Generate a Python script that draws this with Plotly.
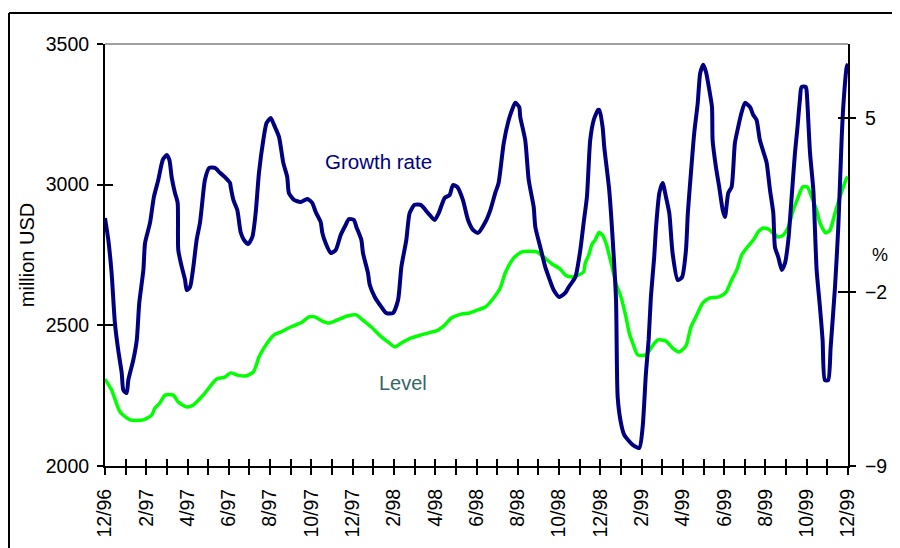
import plotly.graph_objects as go

# Month index: 0 = 12/96 ... 36 = 12/99
tick_months = list(range(0, 37, 2))
tick_labels = ["12/96", "2/97", "4/97", "6/97", "8/97", "10/97", "12/97",
               "2/98", "4/98", "6/98", "8/98", "10/98", "12/98",
               "2/99", "4/99", "6/99", "8/99", "10/99", "12/99"]

growth_month = [0, 0.16, 0.32, 0.48, 0.64, 0.81, 0.89, 1.05, 1.13, 1.37, 1.54, 1.66, 1.86, 1.94,
                2.18, 2.37, 2.58, 2.80, 2.99, 3.12, 3.23, 3.39, 3.52, 3.55, 3.72, 3.88, 3.96,
                4.12, 4.28, 4.44, 4.60, 4.69, 4.84, 5.05, 5.33, 5.57, 5.81, 6.06, 6.09, 6.22,
                6.41, 6.57, 6.73, 6.93, 7.14, 7.30, 7.46, 7.67, 7.83, 8.03, 8.19, 8.43, 8.64,
                8.83, 8.91, 9.16, 9.48, 9.80, 10.04, 10.21, 10.45, 10.53, 10.69, 10.94, 11.18,
                11.42, 11.66, 11.82, 12.06, 12.18, 12.42, 12.50, 12.74, 12.83, 13.07, 13.39,
                13.63, 13.95, 14.20, 14.36, 14.60, 14.76, 15.00, 15.30, 15.65, 15.97, 16.17,
                16.46, 16.70, 16.86, 17.07, 17.34, 17.59, 17.83, 18.07, 18.43, 18.67, 18.91,
                19.07, 19.32, 19.56, 19.72, 19.88, 20.07, 20.12, 20.36, 20.53, 20.77, 20.85,
                21.09, 21.33, 21.50, 21.74, 22.01, 22.30, 22.47, 22.79, 23.03, 23.19, 23.35,
                23.51, 23.68, 23.89, 23.95, 24.11, 24.19, 24.43, 24.60, 24.76, 24.84, 25.00,
                25.16, 25.57, 25.89, 26.05, 26.21, 26.34, 26.45, 26.61, 26.70, 26.86, 27.02,
                27.18, 27.34, 27.50, 27.75, 27.96, 28.15, 28.24, 28.39, 28.55, 28.72, 28.84,
                28.99, 29.12, 29.28, 29.41, 29.44, 29.60, 29.76, 29.93, 30.04, 30.20, 30.36,
                30.52, 30.68, 30.85, 31.01, 31.25, 31.41, 31.57, 31.73, 31.98, 32.06, 32.22,
                32.38, 32.46, 32.62, 32.79, 32.95, 33.11, 33.27, 33.43, 33.54, 33.67, 33.75,
                33.96, 34.00, 34.16, 34.32, 34.48, 34.64, 34.77, 34.88, 35.04, 35.16, 35.37,
                35.53, 35.69, 35.77, 35.94, 36.00]
growth_pct = [0.99, 0.11, -1.22, -3.24, -4.33, -5.25, -5.94, -6.06, -5.54, -4.73, -3.92, -2.43,
              -1.10, -0.02, 0.79, 1.84, 2.52, 3.33, 3.53, 3.33, 2.64, 2.00, 1.60, -0.30, -0.98,
              -1.51, -1.91, -1.79, -0.98, 0.11, 0.79, 1.44, 2.52, 3.01, 3.01, 2.81, 2.64, 2.40,
              2.24, 1.72, 1.31, 0.43, 0.11, -0.06, 0.23, 1.19, 2.81, 4.13, 4.82, 5.02, 4.74,
              4.26, 3.21, 2.64, 2.00, 1.72, 1.64, 1.76, 1.60, 1.23, 0.83, 0.39, -0.02, -0.42,
              -0.30, 0.31, 0.71, 0.95, 0.91, 0.63, 0.11, -0.42, -1.22, -1.71, -2.19, -2.59,
              -2.84, -2.84, -2.31, -0.98, 0.11, 1.19, 1.52, 1.52, 1.19, 0.91, 1.19, 1.80, 1.92,
              2.32, 2.24, 1.72, 0.91, 0.51, 0.39, 0.83, 1.31, 2.00, 2.40, 4.01, 4.94, 5.34,
              5.63, 5.46, 5.06, 4.13, 2.52, 1.44, 0.63, -0.18, -0.98, -1.39, -1.91, -2.19,
              -2.03, -1.79, -1.39, -0.30, 0.79, 1.84, 4.13, 4.94, 5.34, 5.34, 4.66, 3.85, 2.12,
              0.11, -2.31, -6.22, -7.27, -7.75, -8.15, -8.27, -7.43, -5.25, -3.92, -2.19, -0.58,
              0.63, 2.00, 2.40, 1.84, 1.19, -0.42, -1.51, -1.39, -0.30, 1.19, 2.81, 4.42, 5.63,
              6.83, 7.16, 6.87, 6.15, 5.46, 4.13, 3.05, 2.24, 1.31, 1.03, 2.00, 2.24, 4.01,
              4.66, 5.26, 5.63, 5.46, 5.14, 4.94, 4.13, 3.45, 3.21, 2.12, 1.19, -0.18, -0.58,
              -1.10, -0.82, 0.11, 1.84, 3.61, 4.54, 5.75, 6.27, 6.27, 6.07, 3.61, 2.12, -1.10,
              -2.59, -3.92, -5.54, -5.54, -4.21, -1.79, 0.63, 4.13, 5.46, 7.08, 7.20]

level_month = [0, 0.32, 0.73, 1.21, 1.86, 2.26, 2.42, 2.66, 2.91, 3.31, 3.55, 3.96, 4.28, 4.76,
               5.41, 5.81, 6.09, 6.41, 6.82, 7.19, 7.46, 7.86, 8.19, 8.51, 9.00, 9.56, 9.88,
               10.16, 10.53, 10.85, 11.25, 11.74, 12.18, 12.42, 12.90, 13.39, 13.71, 14.04,
               14.36, 14.84, 15.32, 15.81, 16.05, 16.46, 16.78, 17.26, 17.67, 18.07, 18.43,
               18.75, 19.15, 19.39, 19.80, 20.20, 20.93, 21.25, 21.66, 22.06, 22.30, 22.63,
               22.95, 23.19, 23.27, 23.44, 23.60, 23.75, 23.93, 24.11, 24.27, 24.52, 24.76,
               25.00, 25.24, 25.40, 25.57, 25.81, 26.21, 26.45, 26.78, 27.18, 27.50, 27.82,
               28.15, 28.39, 28.63, 28.96, 29.28, 29.76, 30.09, 30.36, 30.61, 30.85, 31.09,
               31.41, 31.65, 31.89, 32.14, 32.38, 32.62, 32.86, 33.11, 33.35, 33.59, 33.80,
               34.03, 34.24, 34.48, 34.64, 34.93, 35.13, 35.37, 35.61, 35.94, 36.00]
level_usd = [2309, 2270, 2192, 2164, 2164, 2181, 2206, 2224, 2252, 2252, 2227, 2210, 2217, 2252,
             2309, 2316, 2331, 2323, 2320, 2334, 2387, 2437, 2466, 2476, 2494, 2512, 2530,
             2530, 2515, 2508, 2519, 2533, 2537, 2523, 2494, 2459, 2441, 2423, 2437, 2455,
             2466, 2476, 2480, 2501, 2526, 2540, 2544, 2555, 2565, 2590, 2633, 2686, 2739,
             2761, 2761, 2743, 2718, 2700, 2679, 2672, 2679, 2690, 2722, 2750, 2789, 2803,
             2830, 2820, 2793, 2722, 2650, 2601, 2530, 2473, 2437, 2395, 2395, 2419, 2448,
             2444, 2419, 2405, 2427, 2494, 2530, 2579, 2597, 2601, 2618, 2661, 2697, 2750,
             2775, 2803, 2832, 2846, 2842, 2828, 2814, 2821, 2850, 2910, 2956, 2992, 2992,
             2956, 2910, 2864, 2828, 2839, 2899, 2956, 3024, 3027]

FONT = "Arial, Liberation Sans, sans-serif"
all_months = list(range(0, 37))

fig = go.Figure()
fig.add_trace(go.Scatter(x=level_month, y=level_usd, mode="lines",
                         line=dict(color="#00FF00", width=3.5, shape="spline", smoothing=0.6),
                         xaxis="x", yaxis="y", showlegend=False, hoverinfo="skip"))
fig.add_trace(go.Scatter(x=growth_month, y=growth_pct, mode="lines",
                         line=dict(color="#000080", width=4, shape="spline", smoothing=0.6),
                         xaxis="x2", yaxis="y2", showlegend=False, hoverinfo="skip"))
# empty helper traces so that the inside-tick overlay axes are drawn
fig.add_trace(go.Scatter(x=[None], y=[None], xaxis="x", yaxis="y3", showlegend=False, hoverinfo="skip"))
fig.add_trace(go.Scatter(x=[None], y=[None], xaxis="x", yaxis="y4", showlegend=False, hoverinfo="skip"))

tickfont = dict(family=FONT, size=19.5, color="black")

fig.update_layout(
    width=884, height=540,
    margin=dict(l=97, r=44, t=36, b=82),
    paper_bgcolor="white", plot_bgcolor="white",
    xaxis=dict(range=[0, 36], tickmode="array", tickvals=tick_months, ticktext=tick_labels,
               tickangle=-90, ticks="outside", ticklen=7, tickwidth=2, tickcolor="black",
               minor=dict(tickmode="array", tickvals=all_months, ticks="outside", ticklen=7,
                          tickwidth=2, tickcolor="black", showgrid=False),
               showline=True, linecolor="black", linewidth=2, showgrid=False, zeroline=False,
               tickfont=tickfont, ticklabelstandoff=6, automargin=False),
    xaxis2=dict(range=[0, 36], overlaying="x", anchor="y", side="bottom",
                tickmode="array", tickvals=all_months, ticks="inside", ticklen=7, tickwidth=2,
                tickcolor="black", showticklabels=False, showline=False, showgrid=False,
                zeroline=False, automargin=False),
    yaxis=dict(range=[2000, 3500], tickmode="array", tickvals=[2000, 2500, 3000, 3500],
               ticks="outside", ticklen=6, tickwidth=2, tickcolor="black",
               showline=True, linecolor="black", linewidth=2, showgrid=False, zeroline=False,
               tickfont=tickfont, ticklabelstandoff=4, automargin=False,
               title=dict(text="million USD", font=dict(family=FONT, size=20, color="black"),
                          standoff=6)),
    yaxis2=dict(range=[-9, 8], overlaying="y", side="right", anchor="x",
                tickmode="array", tickvals=[-9, -2, 5], ticks="outside", ticklen=6,
                tickwidth=2, tickcolor="black", showline=True, linecolor="black", linewidth=2,
                showgrid=False, zeroline=False, tickfont=tickfont, ticklabelstandoff=5,
                automargin=False),
    yaxis3=dict(range=[2000, 3500], overlaying="y", side="left", anchor="x",
                tickmode="array", tickvals=[2000, 2500, 3000, 3500], ticks="inside",
                ticklen=8, tickwidth=2, tickcolor="black", showticklabels=False,
                showline=False, showgrid=False, zeroline=False, automargin=False),
    yaxis4=dict(range=[-9, 8], overlaying="y", side="right", anchor="x",
                tickmode="array", tickvals=[-9, -2, 5], ticks="inside", ticklen=10,
                tickwidth=2, tickcolor="black", showticklabels=False,
                showline=False, showgrid=False, zeroline=False, automargin=False),
    annotations=[
        dict(x=13.23, y=3084, xref="x", yref="y", text="Growth rate", showarrow=False,
             font=dict(family=FONT, size=20.5, color="#000080")),
        dict(x=14.44, y=2295, xref="x", yref="y", text="Level", showarrow=False,
             font=dict(family=FONT, size=20, color="#336666")),
        dict(x=1.0565, y=0.5, xref="paper", yref="paper", text="%", showarrow=False,
             xanchor="right", yanchor="middle",
             font=dict(family=FONT, size=18, color="black")),
    ],
    shapes=[
        dict(type="line", xref="paper", yref="paper", x0=0, x1=1, y0=1, y1=1,
             line=dict(color="#808080", width=1.5)),
        dict(type="line", xref="paper", yref="paper", x0=-0.1292, x1=1.1, y0=1.0735, y1=1.0735,
             line=dict(color="black", width=2), layer="above"),
        dict(type="line", xref="paper", yref="paper", x0=-0.1292, x1=-0.1292, y0=-0.3, y1=1.0735,
             line=dict(color="black", width=2), layer="above"),
    ],
)

fig.write_html("out.html")
